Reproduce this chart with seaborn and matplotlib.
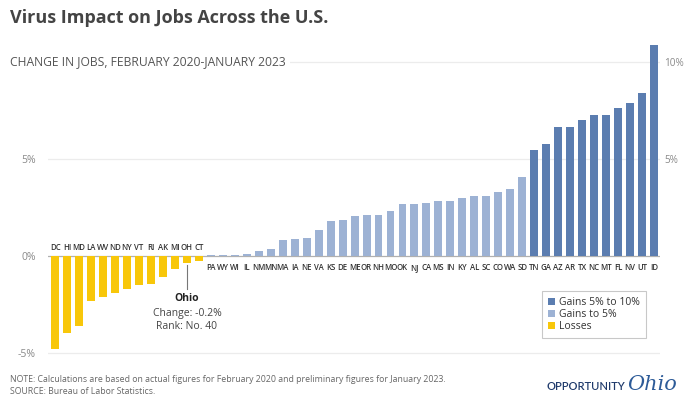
import matplotlib
matplotlib.use("Agg")
import matplotlib.pyplot as plt
import seaborn as sns
import pandas as pd
from matplotlib.patches import Patch

states = ["DC", "HI", "MD", "LA", "WV", "ND", "NY", "VT", "RI", "AK", "MI", "OH", "CT",
          "PA", "WY", "WI", "IL", "NM", "MN", "MA", "IA", "NE", "VA", "KS", "DE", "ME",
          "OR", "NH", "MO", "OK", "NJ", "CA", "MS", "IN", "KY", "AL", "SC", "CO", "WA", "SD",
          "TN", "GA", "AZ", "AR", "TX", "NC", "MT", "FL", "NV", "UT", "ID"]
changes = [-4.8, -3.95, -3.6, -2.3, -2.1, -1.9, -1.7, -1.5, -1.45, -1.05, -0.67, -0.35, -0.25,
           0.05, 0.05, 0.07, 0.1, 0.26, 0.35, 0.83, 0.9, 0.93, 1.34, 1.84, 1.89, 2.08,
           2.13, 2.15, 2.34, 2.67, 2.68, 2.77, 2.85, 2.86, 3.03, 3.13, 3.13, 3.32, 3.46, 4.08,
           5.49, 5.8, 6.66, 6.66, 7.05, 7.26, 7.26, 7.62, 7.9, 8.42, 10.9]
groups = ["Gains 5% to 10%", "Gains to 5%", "Losses"]
colors = ["#5b7db0", "#9db2d4", "#f8c70a"]
left_ticks = [-5, 0, 5]
right_ticks = [5, 10]


def group_of(v):
    if v < 0:
        return groups[2]
    if v < 5:
        return groups[1]
    return groups[0]


df = pd.DataFrame({"state": states, "change": changes})
df["group"] = [group_of(v) for v in changes]

plt.rcParams["font.family"] = ["Open Sans", "DejaVu Sans"]
fig = plt.figure(figsize=(6.86, 3.97), dpi=100)
ax = fig.add_axes([0.07, 0.1003, 0.892, 0.8015])

sns.barplot(data=df, x="state", y="change", hue="group", order=states,
            hue_order=groups, palette=dict(zip(groups, colors)), dodge=False,
            width=0.66, saturation=1, legend=False, ax=ax, zorder=3)

ax.set_xlim(-0.6, len(states) - 0.5)
ax.set_ylim(-5.2, 11.2)
for g in [-5, 5, 10]:
    ax.axhline(g, color="#ececec", lw=0.9, zorder=1)
ax.axhline(0, color="#b0b0b0", lw=0.9, zorder=2)

ax.set_xticks([])
ax.set_xlabel("")
ax.set_ylabel("")
ax.set_yticks(left_ticks)
ax.set_yticklabels([f"{t}%" for t in left_ticks], color="#8a8a8a", fontsize=7.5)
ax.tick_params(axis="y", length=0, pad=9)
for s in ax.spines.values():
    s.set_visible(False)

ax2 = ax.twinx()
ax2.set_ylim(ax.get_ylim())
ax2.set_yticks(right_ticks)
ax2.set_yticklabels([f"{t}%" for t in right_ticks], color="#8a8a8a", fontsize=7.2)
ax2.tick_params(axis="y", length=0, pad=3)
for s in ax2.spines.values():
    s.set_visible(False)

# state labels
for i, (st, v) in enumerate(zip(states, changes)):
    if v < 0:
        ax.text(i, 0.33, st, ha="center", va="baseline", fontsize=5.6,
                color="#333333", fontweight="semibold", family="Open Sans")
    else:
        ax.text(i, -0.7, st, ha="center", va="baseline", fontsize=5.6,
                color="#333333", fontweight="semibold", family="Open Sans")

# Ohio annotation
oi = states.index("OH")
ax.plot([oi, oi], [changes[oi] - 0.1, -1.7], color="#777777", lw=0.8, zorder=4)
ax.text(oi, -1.9, "Ohio", ha="center", va="top", fontsize=7.5, fontweight="bold", color="#222222")
ax.text(oi, -2.65, "Change: -0.2%", ha="center", va="top", fontsize=7.5, color="#444444")
ax.text(oi, -3.35, "Rank: No. 40", ha="center", va="top", fontsize=7.5, color="#444444")

# legend
handles = [Patch(facecolor=c, edgecolor="none") for c in colors]
leg = fig.legend(handles, groups, loc="upper left", bbox_to_anchor=(537 / 686, 1 - 286 / 397),
                 fontsize=7.5, frameon=True, fancybox=False, edgecolor="#bbbbbb",
                 handlelength=0.7, handleheight=0.7, handletextpad=0.4, labelspacing=0.1,
                 borderpad=0.55, labelcolor="#333333")
leg.get_frame().set_linewidth(0.8)

# titles
fig.text(10 / 686, 1 - 18 / 397, "Virus Impact on Jobs Across the U.S.", fontsize=13,
         fontweight="bold", color="#444444", va="center", ha="left")
fig.text(10 / 686, 1 - 62 / 397, "CHANGE IN JOBS, FEBRUARY 2020-JANUARY 2023", fontsize=8.7,
         color="#555555", va="center", ha="left",
         bbox=dict(facecolor="white", edgecolor="none", pad=3))

# footer
fig.text(10 / 686, 1 - 380 / 397,
         "NOTE: Calculations are based on actual figures for February 2020 and preliminary figures for January 2023.",
         fontsize=6.3, color="#666666", va="center", ha="left")
fig.text(10 / 686, 1 - 391 / 397, "SOURCE: Bureau of Labor Statistics.",
         fontsize=6.3, color="#666666", va="center", ha="left")

fig.text(625 / 686, 1 - 387 / 397, "OPPORTUNITY", fontsize=8, color="#1f3a6b",
         va="center", ha="right", family="Lato", fontweight="semibold")
fig.text(627 / 686, 1 - 385 / 397, "Ohio", fontsize=15, color="#2d5b98",
         va="center", ha="left", style="italic", family="DejaVu Serif")

fig.savefig("out.png", dpi=100, facecolor="white")
